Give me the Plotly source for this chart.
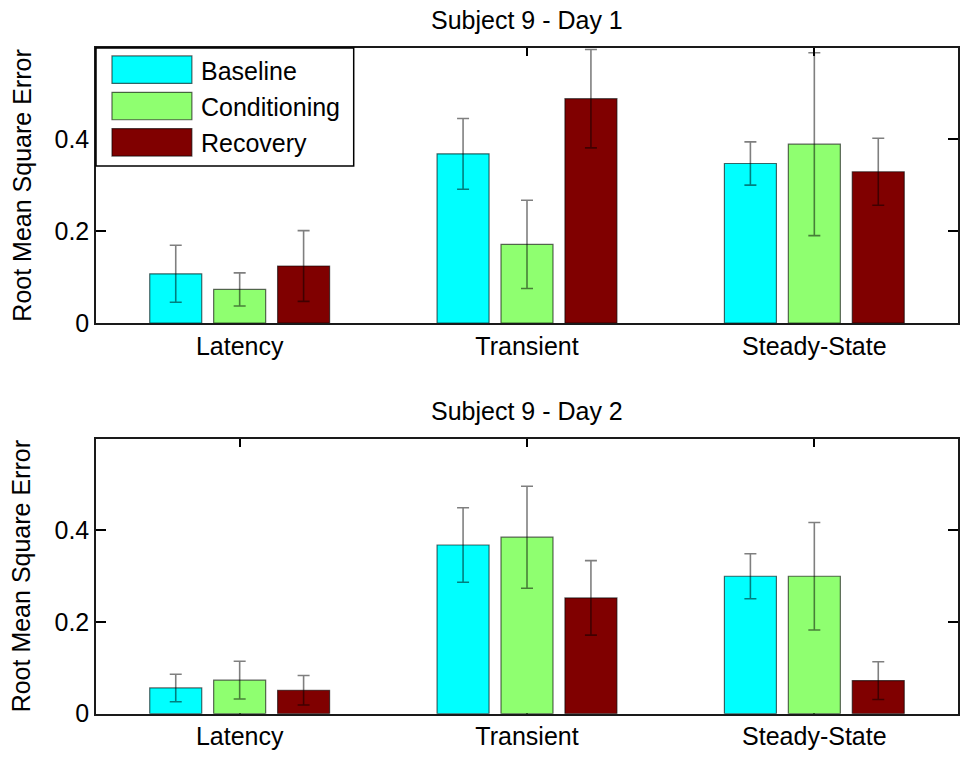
import plotly.graph_objects as go

# Categories and series values (RMSE means and error half-widths)
categories = ["Latency", "Transient", "Steady-State"]
series_names = ["Baseline", "Conditioning", "Recovery"]
series_colors = ["#00FFFF", "#8FFF70", "#800000"]

day1_baseline = [0.107, 0.368, 0.347]
day1_conditioning = [0.073, 0.171, 0.389]
day1_recovery = [0.124, 0.488, 0.329]
day1_baseline_err = [0.062, 0.077, 0.047]
day1_conditioning_err = [0.036, 0.096, 0.199]
day1_recovery_err = [0.077, 0.107, 0.073]

day2_baseline = [0.056, 0.367, 0.299]
day2_conditioning = [0.073, 0.384, 0.299]
day2_recovery = [0.051, 0.252, 0.072]
day2_baseline_err = [0.030, 0.081, 0.049]
day2_conditioning_err = [0.041, 0.111, 0.117]
day2_recovery_err = [0.032, 0.081, 0.041]

panel_titles = ["Subject 9 - Day 1", "Subject 9 - Day 2"]
y_title = "Root Mean Square Error"
y_ticks = [0, 0.2, 0.4]

W, H = 960, 766
ML, MR = 96, 1
FONT = "Liberation Sans, Arial, sans-serif"
FS = 25


def px_x(px):
    return (px - ML) / (W - ML - MR)


def px_y(py):
    return (H - py) / H


fig = go.Figure()

panels = [
    ([day1_baseline, day1_conditioning, day1_recovery],
     [day1_baseline_err, day1_conditioning_err, day1_recovery_err], "x", "y"),
    ([day2_baseline, day2_conditioning, day2_recovery],
     [day2_baseline_err, day2_conditioning_err, day2_recovery_err], "x2", "y2"),
]

xpos = [1, 2, 3]
for vals, errs, xa, ya in panels:
    for name, color, v, e in zip(series_names, series_colors, vals, errs):
        fig.add_trace(go.Bar(
            x=xpos, y=v, name=name, xaxis=xa, yaxis=ya,
            marker=dict(color=color, line=dict(color="rgba(0,0,0,0.6)", width=1.2)),
            error_y=dict(type="data", array=e, visible=True,
                         color="rgba(0,0,0,0.5)", thickness=1.6, width=6),
            showlegend=False,
        ))

axis_common = dict(
    showgrid=False, zeroline=False, showline=True, linecolor="#1a1a1a",
    linewidth=1.5, ticks="inside", tickcolor="#000", tickwidth=1.5,
    mirror="ticks", tickfont=dict(family=FONT, size=FS, color="#000"),
)

domains = [(px_y(329), px_y(49)), (px_y(727), px_y(447))]

fig.update_layout(
    width=W, height=H,
    margin=dict(l=ML, r=MR, t=0, b=0, pad=0),
    paper_bgcolor="white", plot_bgcolor="white",
    barmode="group", bargap=0.3325, bargroupgap=0.1865,
    font=dict(family=FONT, size=FS, color="#000"),
    xaxis=dict(axis_common, range=[0.5, 3.5], tickvals=xpos, ticktext=categories,
               ticklen=8, anchor="y", layer="below traces"),
    yaxis=dict(axis_common, range=[0, 0.598], tickvals=y_ticks, ticktext=["0", "0.2", "0.4"],
               ticklen=10, domain=domains[0], anchor="x"),
    xaxis2=dict(axis_common, range=[0.5, 3.5], tickvals=xpos, ticktext=categories,
                ticklen=8, anchor="y2", layer="below traces"),
    yaxis2=dict(axis_common, range=[0, 0.598], tickvals=y_ticks, ticktext=["0", "0.2", "0.4"],
                ticklen=10, domain=domains[1], anchor="x2"),
)

annotations = []
shapes = []
# Panel titles and y-axis titles
for title, ty, (d0, d1) in zip(panel_titles, [20, 419], domains):
    annotations.append(dict(text=title, x=0.5, y=px_y(ty), xref="paper", yref="paper",
                            xanchor="center", yanchor="middle", showarrow=False,
                            font=dict(family=FONT, size=FS, color="#000")))
    annotations.append(dict(text=y_title, x=px_x(21), y=(d0 + d1) / 2, xref="paper",
                            yref="paper", xanchor="center", yanchor="middle",
                            textangle=-90, showarrow=False,
                            font=dict(family=FONT, size=FS, color="#000")))

# Legend box in the upper-left corner of the first panel
shapes.append(dict(type="rect", xref="paper", yref="paper",
                   x0=px_x(96), x1=px_x(354), y0=px_y(169), y1=px_y(49),
                   line=dict(color="#000", width=1.5), fillcolor="white", layer="above"))
for i, (name, color) in enumerate(zip(series_names, series_colors)):
    cy = 71 + i * 37
    shapes.append(dict(type="rect", xref="paper", yref="paper",
                       x0=px_x(112), x1=px_x(192), y0=px_y(cy + 14), y1=px_y(cy - 14),
                       line=dict(color="rgba(0,0,0,0.6)", width=1.2), fillcolor=color,
                       layer="above"))
    annotations.append(dict(text=name, x=px_x(199), y=px_y(cy + 1), xref="paper",
                            yref="paper", xanchor="left", yanchor="middle",
                            showarrow=False,
                            font=dict(family=FONT, size=FS, color="#000")))

fig.update_layout(annotations=annotations, shapes=shapes)

fig.write_html("out.html")
